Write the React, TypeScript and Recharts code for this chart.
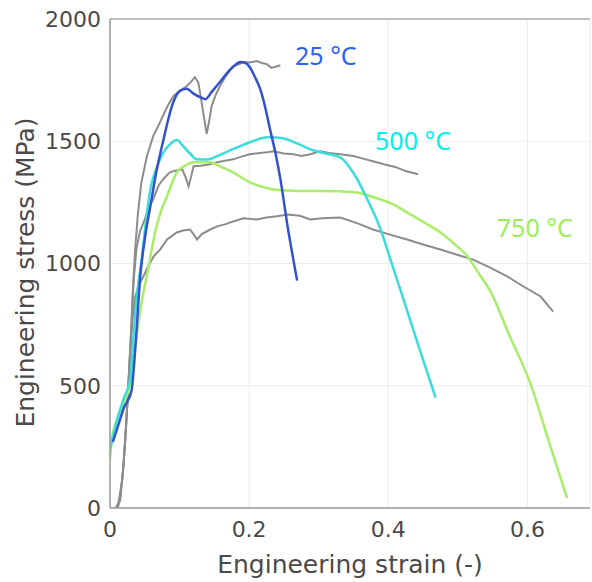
import React from "react";
import {
  LineChart,
  Line,
  XAxis,
  YAxis,
  CartesianGrid,
  ReferenceLine,
  ReferenceDot,
} from "recharts";

type Pt = [number, number];

// strain (-), stress (MPa)
const blue25: Pt[] = [
  [0.004, 270], [0.012, 340], [0.02, 410], [0.031, 480], [0.035, 600], [0.039, 760],
  [0.043, 930], [0.05, 1100], [0.058, 1234], [0.067, 1380], [0.077, 1508], [0.089, 1644],
  [0.1, 1705], [0.11, 1715], [0.12, 1695], [0.13, 1680], [0.137, 1672], [0.147, 1705],
  [0.158, 1742], [0.17, 1785], [0.18, 1812], [0.187, 1824], [0.195, 1820], [0.201, 1803],
  [0.208, 1765], [0.216, 1713], [0.223, 1640], [0.23, 1549], [0.238, 1450], [0.245, 1344],
  [0.256, 1139], [0.262, 1040], [0.269, 930],
];

const cyan500: Pt[] = [
  [0, 240], [0.005, 300], [0.012, 380], [0.02, 450], [0.029, 525], [0.035, 750],
  [0.04, 900], [0.046, 1029], [0.052, 1180], [0.058, 1303], [0.067, 1390], [0.077, 1455],
  [0.087, 1490], [0.096, 1505], [0.105, 1480], [0.115, 1450], [0.125, 1426], [0.14, 1425],
  [0.154, 1439], [0.17, 1460], [0.187, 1480], [0.205, 1500], [0.226, 1516], [0.24, 1515],
  [0.254, 1508], [0.27, 1490], [0.288, 1467], [0.31, 1450], [0.331, 1434], [0.35, 1370],
  [0.37, 1262], [0.389, 1139], [0.405, 1000], [0.422, 852], [0.445, 650], [0.468, 451],
];

const green750: Pt[] = [
  [0, 200], [0.003, 290], [0.01, 360], [0.02, 430], [0.03, 520], [0.036, 650],
  [0.042, 780], [0.048, 881], [0.055, 980], [0.065, 1130], [0.074, 1220], [0.082, 1275],
  [0.09, 1335], [0.096, 1373], [0.108, 1400], [0.12, 1414], [0.144, 1414], [0.16, 1395],
  [0.177, 1373], [0.201, 1332], [0.22, 1313], [0.235, 1303], [0.273, 1297], [0.3, 1297],
  [0.33, 1295], [0.355, 1290], [0.38, 1270], [0.405, 1245], [0.427, 1209], [0.45, 1170],
  [0.475, 1127], [0.495, 1080], [0.514, 1029], [0.53, 960], [0.547, 885], [0.575, 700],
  [0.604, 512], [0.63, 280], [0.657, 40],
];

const gray25: Pt[] = [
  [0.008, 0], [0.012, 20], [0.018, 120], [0.022, 280], [0.026, 480], [0.03, 700],
  [0.033, 900], [0.036, 1050], [0.04, 1200], [0.045, 1330], [0.053, 1439], [0.062, 1520],
  [0.072, 1578], [0.082, 1640], [0.091, 1684], [0.1, 1705], [0.11, 1725], [0.117, 1745],
  [0.122, 1762], [0.127, 1740], [0.13, 1690], [0.135, 1600], [0.139, 1530], [0.143, 1590],
  [0.146, 1644], [0.152, 1690], [0.158, 1725], [0.165, 1760], [0.177, 1807], [0.185, 1815],
  [0.192, 1824], [0.2, 1822], [0.211, 1828], [0.218, 1820], [0.225, 1816], [0.232, 1800],
  [0.238, 1805], [0.245, 1811],
];

const gray500: Pt[] = [
  [0.01, 0], [0.014, 30], [0.019, 160], [0.023, 330], [0.027, 540], [0.031, 760],
  [0.034, 930], [0.038, 1060], [0.043, 1130], [0.05, 1180], [0.056, 1230], [0.062, 1262],
  [0.07, 1320], [0.078, 1350], [0.086, 1373], [0.095, 1380], [0.104, 1385], [0.109, 1350],
  [0.113, 1316], [0.117, 1360], [0.12, 1398], [0.13, 1400], [0.142, 1405], [0.154, 1414],
  [0.165, 1420], [0.177, 1426], [0.19, 1438], [0.201, 1447], [0.215, 1452], [0.226, 1455],
  [0.235, 1459], [0.25, 1450], [0.264, 1447], [0.275, 1440], [0.288, 1447], [0.302, 1459],
  [0.315, 1452], [0.331, 1447], [0.35, 1440], [0.365, 1428], [0.378, 1418], [0.395, 1405],
  [0.41, 1395], [0.425, 1378], [0.443, 1365],
];

const gray750: Pt[] = [
  [0.011, 0], [0.015, 40], [0.02, 200], [0.024, 380], [0.028, 580], [0.032, 760],
  [0.036, 860], [0.041, 910], [0.048, 947], [0.055, 990], [0.063, 1030], [0.072, 1057],
  [0.082, 1098], [0.09, 1115], [0.096, 1127], [0.105, 1135], [0.115, 1139], [0.12, 1120],
  [0.125, 1098], [0.132, 1120], [0.144, 1139], [0.154, 1152], [0.165, 1160], [0.177, 1172],
  [0.192, 1185], [0.211, 1180], [0.225, 1188], [0.24, 1193], [0.255, 1200], [0.273, 1195],
  [0.288, 1180], [0.305, 1185], [0.331, 1188], [0.355, 1165], [0.378, 1139], [0.4, 1120],
  [0.427, 1098], [0.45, 1078], [0.475, 1057], [0.5, 1035], [0.522, 1016], [0.545, 985],
  [0.571, 947], [0.595, 905], [0.619, 865], [0.637, 803],
];

const xTicks = [0, 0.2, 0.4, 0.6];
const yTicks = [0, 500, 1000, 1500, 2000];

// label text, anchor point (strain, stress), colour
const tempLabels: { text: string; x: number; y: number; color: string }[] = [
  { text: "25 °C", x: 0.266, y: 1812, color: "#2c62ee" },
  { text: "500 °C", x: 0.381, y: 1464, color: "#00f0f0" },
  { text: "750 °C", x: 0.556, y: 1108, color: "#9cee5a" },
];

const toRows = (pts: Pt[]) => pts.map(([x, y]) => ({ x, y }));

const FONT = "'DejaVu Sans', sans-serif";

export default function App() {
  return (
    <div style={{ position: "absolute", left: 0, top: 0, background: "#fff" }}>
      <LineChart
        width={592}
        height={582}
        margin={{ top: 19, right: 2, bottom: 0, left: 0 }}
      >
        <CartesianGrid stroke="#ececec" strokeWidth={1} />
        <XAxis
          type="number"
          dataKey="x"
          domain={[0, 0.69]}
          ticks={xTicks}
          allowDataOverflow
          height={74}
          stroke="#9a9a9a"
          strokeWidth={1.5}
          tickLine={false}
          tickSize={6}
          tickMargin={7}
          tick={{ fill: "#4a4a4a", fontSize: 22, fontFamily: FONT }}
          label={{
            value: "Engineering strain (-)",
            position: "insideBottom",
            offset: 9,
            fill: "#4a4a4a",
            fontSize: 25,
            fontFamily: FONT,
          }}
        />
        <YAxis
          type="number"
          dataKey="y"
          domain={[0, 2000]}
          ticks={yTicks}
          allowDataOverflow
          width={110}
          stroke="#9a9a9a"
          strokeWidth={1.5}
          tickLine={false}
          tickSize={6}
          tickMargin={3}
          tick={{ fill: "#4a4a4a", fontSize: 22, fontFamily: FONT }}
          label={(props: any) => {
            const vb = props.viewBox || {};
            const cx = (vb.x ?? 0) + 27;
            const cy = (vb.y ?? 0) + (vb.height ?? 0) / 2 + 9;
            return (
              <text
                x={cx}
                y={cy}
                transform={`rotate(-90, ${cx}, ${cy})`}
                textAnchor="middle"
                dominantBaseline="middle"
                fill="#4a4a4a"
                fontSize={25}
                fontFamily={FONT}
              >
                Engineering stress (MPa)
              </text>
            );
          }}
        />
        <ReferenceLine y={2000} stroke="#aaa" strokeWidth={1.5} />

        <Line data={toRows(gray750)} dataKey="y" type="linear" stroke="#8c8c8c" strokeWidth={2} dot={false} isAnimationActive={false} />
        <Line data={toRows(gray500)} dataKey="y" type="linear" stroke="#8c8c8c" strokeWidth={2} dot={false} isAnimationActive={false} />
        <Line data={toRows(gray25)} dataKey="y" type="linear" stroke="#8c8c8c" strokeWidth={2} dot={false} isAnimationActive={false} />
        <Line data={toRows(green750)} dataKey="y" type="monotone" stroke="#a8ee6a" strokeWidth={2.5} dot={false} isAnimationActive={false} />
        <Line data={toRows(cyan500)} dataKey="y" type="monotone" stroke="#3adcdc" strokeWidth={2.5} dot={false} isAnimationActive={false} />
        <Line data={toRows(blue25)} dataKey="y" type="monotone" stroke="#3452cc" strokeWidth={2.5} dot={false} isAnimationActive={false} />

        {tempLabels.map((l) => (
          <ReferenceDot
            key={l.text}
            x={l.x}
            y={l.y}
            r={0}
            fill="none"
            stroke="none"
            label={(props: any) => {
              const vb = props.viewBox || {};
              return (
                <text
                  x={vb.x ?? 0}
                  y={vb.y ?? 0}
                  fill={l.color}
                  fontSize={25}
                  fontFamily="'Noto Sans', sans-serif"
                >
                  {l.text}
                </text>
              );
            }}
          />
        ))}
      </LineChart>
    </div>
  );
}
